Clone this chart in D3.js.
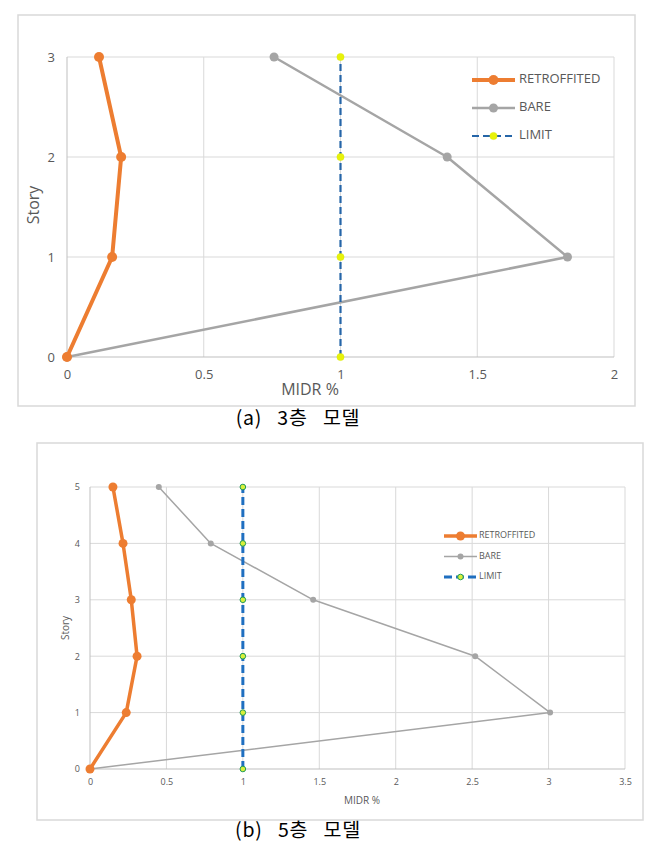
<!DOCTYPE html>
<html><head><meta charset="utf-8">
<script src="https://cdn.jsdelivr.net/npm/d3@7"></script>
<style>
html,body{margin:0;padding:0;background:#fff;}
svg{display:block;}
</style></head>
<body>
<svg id="chart" width="669" height="854"></svg>
<script>
// ---- Data ----
const seriesNames = ["RETROFFITED", "BARE", "LIMIT"];
// Chart (a): 3-story model
const storiesA = [0, 1, 2, 3];
const retroA = [0, 0.165, 0.198, 0.117];
const bareA = [0, 1.83, 1.39, 0.757];
const limitA = [1, 1, 1, 1];
const xTicksA = [0, 0.5, 1, 1.5, 2];
const xLabelsA = ["0", "0.5", "1", "1.5", "2"];
// Chart (b): 5-story model
const storiesB = [0, 1, 2, 3, 4, 5];
const retroB = [0, 0.237, 0.308, 0.27, 0.216, 0.15];
const bareB = [0, 3.01, 2.52, 1.46, 0.79, 0.45];
const limitB = [1, 1, 1, 1, 1, 1];
const xTicksB = [0, 0.5, 1, 1.5, 2, 2.5, 3, 3.5];
const xLabelsB = ["0", "0.5", "1", "1.5", "2", "2.5", "3", "3.5"];
const captions = ["(a) 3층 모델", "(b) 5층 모델"];

const svg = d3.select("#chart");
const FONT = "'Open Sans', 'Noto Sans', sans-serif";
const TXT = "#595959";

function drawChart(cfg) {
  const g = svg.append("g");
  g.append("rect").attr("x", cfg.frame[0]).attr("y", cfg.frame[1])
    .attr("width", cfg.frame[2] - cfg.frame[0]).attr("height", cfg.frame[3] - cfg.frame[1])
    .attr("fill", "#fff").attr("stroke", "#d9d9d9").attr("stroke-width", 1.5);

  const x = d3.scaleLinear().domain([0, cfg.xMax]).range([cfg.plot[0], cfg.plot[2]]);
  const y = d3.scaleLinear().domain([0, cfg.yMax]).range([cfg.plot[3], cfg.plot[1]]);

  g.append("g").selectAll("line.v").data(cfg.xTicks.slice(1)).join("line")
    .attr("x1", d => x(d)).attr("x2", d => x(d))
    .attr("y1", y(0)).attr("y2", y(cfg.yMax))
    .attr("stroke", "#d9d9d9").attr("stroke-width", 1);
  g.append("g").selectAll("line.h").data(cfg.stories.slice(1)).join("line")
    .attr("x1", x(0)).attr("x2", x(cfg.xMax))
    .attr("y1", d => y(d)).attr("y2", d => y(d))
    .attr("stroke", "#d9d9d9").attr("stroke-width", 1);
  g.append("line").attr("x1", x(0)).attr("x2", x(cfg.xMax)).attr("y1", y(0)).attr("y2", y(0))
    .attr("stroke", "#bfbfbf").attr("stroke-width", 1);
  g.append("line").attr("x1", x(0)).attr("x2", x(0)).attr("y1", y(0)).attr("y2", y(cfg.yMax))
    .attr("stroke", "#bfbfbf").attr("stroke-width", 1);

  const xAxis = d3.axisBottom(x).tickValues(cfg.xTicks).tickFormat((d, i) => cfg.xLabels[i]).tickSize(0).tickPadding(cfg.xPad);
  const xa = g.append("g").attr("transform", `translate(0,${y(0)})`).call(xAxis);
  xa.select(".domain").remove();
  xa.selectAll("text").attr("fill", TXT).style("font-family", FONT).style("font-size", cfg.tickFont + "px");
  const yAxis = d3.axisLeft(y).tickValues(cfg.stories).tickFormat(d3.format("d")).tickSize(0).tickPadding(cfg.yPad);
  const ya = g.append("g").attr("transform", `translate(${x(0)},0)`).call(yAxis);
  ya.select(".domain").remove();
  ya.selectAll("text").attr("fill", TXT).style("font-family", FONT).style("font-size", cfg.tickFont + "px");

  g.append("text").attr("x", cfg.xTitle[0]).attr("y", cfg.xTitle[1]).attr("text-anchor", "middle")
    .attr("dominant-baseline", "middle").attr("fill", TXT)
    .style("font-family", FONT).style("font-size", cfg.titleFont + "px").text("MIDR %");
  g.append("text").attr("transform", `translate(${cfg.yTitle[0]},${cfg.yTitle[1]}) rotate(-90)`)
    .attr("text-anchor", "middle").attr("dominant-baseline", "middle").attr("fill", TXT)
    .style("font-family", FONT).style("font-size", cfg.titleFont + "px").text("Story");

  const line = d3.line().x(d => x(d[0])).y(d => y(d[1]));
  const sty = cfg.styles;
  const sets = [cfg.retro, cfg.bare, cfg.limit];
  [1, 2, 0].forEach(k => {
    const pts = cfg.stories.map((s, i) => [sets[k][i], s]);
    const st = sty[k];
    g.append("path").attr("d", line(pts)).attr("fill", "none")
      .attr("stroke", st.color).attr("stroke-width", st.width)
      .attr("stroke-dasharray", st.dash || null).attr("stroke-linejoin", "round");
    g.append("g").selectAll("circle").data(pts).join("circle")
      .attr("cx", d => x(d[0])).attr("cy", d => y(d[1])).attr("r", st.r)
      .attr("fill", st.mfill).attr("stroke", st.mstroke || "none").attr("stroke-width", st.mstrokeW || 0);
  });

  const L = cfg.legend;
  seriesNames.forEach((name, k) => {
    const st = sty[k];
    const yy = L.y0 + k * L.dy;
    g.append("line").attr("x1", L.x1).attr("x2", L.x2).attr("y1", yy).attr("y2", yy)
      .attr("stroke", st.color).attr("stroke-width", st.width).attr("stroke-dasharray", st.dash || null);
    g.append("circle").attr("cx", (L.x1 + L.x2) / 2).attr("cy", yy).attr("r", st.r)
      .attr("fill", st.mfill).attr("stroke", st.mstroke || "none").attr("stroke-width", st.mstrokeW || 0);
    g.append("text").attr("x", L.tx).attr("y", yy).attr("dominant-baseline", "middle")
      .attr("fill", TXT).style("font-family", FONT).style("font-size", L.font + "px").text(name);
  });

  svg.append("text").attr("x", cfg.caption[0]).attr("y", cfg.caption[1]).attr("text-anchor", "middle")
    .attr("fill", "#000").style("font-family", "'Noto Sans CJK KR', sans-serif").style("font-size", "19.5px")
    .style("word-spacing", "10px").style("letter-spacing", "0.8px")
    .text(cfg.captionText);
}

drawChart({
  frame: [18, 15, 635, 406], plot: [67, 57, 614, 357],
  xMax: 2, yMax: 3, stories: storiesA, xTicks: xTicksA, xLabels: xLabelsA,
  retro: retroA, bare: bareA, limit: limitA,
  tickFont: 13, titleFont: 16, xPad: 13, yPad: 12,
  xTitle: [310, 391], yTitle: [35, 205],
  styles: [
    { color: "#ed7d31", width: 4, r: 5, mfill: "#ed7d31" },
    { color: "#a5a5a5", width: 2.5, r: 4.5, mfill: "#a5a5a5" },
    { color: "#2565a8", width: 2.2, dash: "7,4", r: 3.6, mfill: "#e8f20a", mstroke: "#d8e800", mstrokeW: 0.5 }
  ],
  legend: { x1: 472, x2: 515, y0: 80, dy: 28, tx: 519, font: 13 },
  caption: [298, 425], captionText: captions[0]
});

drawChart({
  frame: [37, 443, 643, 820], plot: [90, 487, 625, 769],
  xMax: 3.5, yMax: 5, stories: storiesB, xTicks: xTicksB, xLabels: xLabelsB,
  retro: retroB, bare: bareB, limit: limitB,
  tickFont: 9, titleFont: 10, xPad: 10, yPad: 10,
  xTitle: [362, 801], yTitle: [66, 628],
  styles: [
    { color: "#ed7d31", width: 3.5, r: 4.5, mfill: "#ed7d31" },
    { color: "#a5a5a5", width: 1.5, r: 3, mfill: "#a5a5a5" },
    { color: "#1f6fc0", width: 3, dash: "8,4", r: 2.8, mfill: "#d8f03a", mstroke: "#1f9a5a", mstrokeW: 1 }
  ],
  legend: { x1: 444, x2: 477, y0: 536, dy: 20.5, tx: 479, font: 9 },
  caption: [298, 837], captionText: captions[1]
});
</script>
</body></html>
